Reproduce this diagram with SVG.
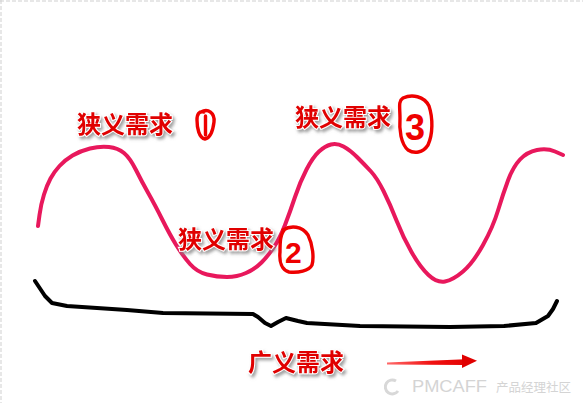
<svg xmlns="http://www.w3.org/2000/svg" width="583" height="403" viewBox="0 0 583 403">
  <defs>
    <filter id="shadow" x="-10%" y="-20%" width="130%" height="160%">
      <feDropShadow dx="2" dy="2.5" stdDeviation="1.5" flood-color="#888" flood-opacity="0.8"/>
    </filter>
    <linearGradient id="arrowGrad" x1="387" y1="0" x2="477" y2="0" gradientUnits="userSpaceOnUse">
      <stop offset="0" stop-color="#ff6a6a"/>
      <stop offset="0.5" stop-color="#f01010"/>
      <stop offset="1" stop-color="#e00000"/>
    </linearGradient>
  </defs>
  <style>
    .label { font-family: "Noto Sans CJK SC", "Noto Sans", sans-serif; font-size: 24px; font-weight: 700; fill: #e00000; stroke: #ffffff; stroke-width: 2px; paint-order: stroke; filter: url(#shadow); }
    .wave { fill: none; stroke: #e8185c; stroke-width: 4; stroke-linecap: round; stroke-linejoin: round; }
    .brace { fill: none; stroke: #000000; stroke-width: 4; stroke-linecap: round; stroke-linejoin: round; }
    .loop { fill: none; stroke: #ee0000; stroke-width: 3.4; stroke-linecap: round; stroke-linejoin: round; }
    .digit { font-family: "Liberation Sans", "DejaVu Sans", sans-serif; font-weight: 700; fill: #ee0000; }
    .wm { font-family: "Liberation Sans", "Noto Sans CJK SC", sans-serif; fill: #d4d4d4; }
  </style>

  <rect x="0" y="0" width="583" height="403" fill="#ffffff"/>
  <g id="border">
    <line x1="0" y1="1" x2="583" y2="1" stroke="#cfcfcf" stroke-width="1" stroke-dasharray="4 2"/>
    <line x1="1" y1="0" x2="1" y2="403" stroke="#cfcfcf" stroke-width="1" stroke-dasharray="4 2"/>
  </g>

  <g id="connectors">
    <path id="wave" class="wave" d="M38,226 L39.5,215 Q41,204 44,194.5 Q47,185 50.5,178.5 Q54,172 59.5,166 Q65,160 72.5,155.5 Q80,151 90,148.5 Q100,146 109,147 Q118,148 124,153 Q130,158 136,170 Q142,182 148.5,193.5 Q155,205 162.5,220 Q170,235 176.5,245.5 Q183,256 190,264 Q197,272 207,274.5 Q217,277 227,277 Q237,277 246,273 Q255,269 261.5,262.5 Q268,256 274,247 Q280,238 285,225 Q290,212 295,197 Q300,182 306.5,169.5 Q313,157 319,151.5 Q325,146 331,144.5 Q337,143 343.5,146.5 Q350,150 357.5,157.5 Q365,165 371,171.5 Q377,178 383.5,191 Q390,204 396.5,220.5 Q403,237 411.5,252 Q420,267 428.5,275 Q437,283 445,281.5 Q453,280 463,271.5 Q473,263 483,245 Q493,227 498,210.5 Q503,194 508,180.5 Q513,167 520,159.5 Q527,152 537,150 Q547,148 555,151.5 L563,155"/>
    <path id="brace" class="brace" d="M35,281 L45,296 L52,303 L67,306 L127,310 L163,313 L253,314 L258,317 L265,323 L271,326 L278,322 L286,318 L298,321 L307,323 L360,326 L450,327 L504,326 L536,323 L548,316 L553,309 L557,301"/>
    <g id="arrow">
      <polygon points="387,362.6 465,359.2 465,365 387,364.6" fill="url(#arrowGrad)"/>
      <polygon points="462,354.5 477,360.8 462,368" fill="#e00000"/>
    </g>
  </g>

  <g id="label-narrow-1">
    <text class="label" x="77" y="133">狭义需求</text>
  </g>
  <g id="mark-1">
    <path class="loop" d="M201,112 C208,108 215,113 214,122 C213,130 210,138 205,139 C199,138 197,128 197,120 C197,114 199,111 204,112"/>
    <line class="loop" x1="205.5" y1="116" x2="205.5" y2="135"/>
  </g>

  <g id="label-narrow-3">
    <text class="label" x="295" y="126">狭义需求</text>
  </g>
  <g id="mark-3">
    <path class="loop" d="M403,98 C412,94 424,96 429,106 C433,118 433,134 428,145 C423,153 414,154 408,150 C401,144 399,130 400,118 C400,108 398,101 403,98"/>
    <text class="digit" x="405" y="140" font-size="36">3</text>
  </g>

  <g id="label-narrow-2">
    <text class="label" x="178" y="248">狭义需求</text>
  </g>
  <g id="mark-2">
    <path class="loop" d="M283,230 C291,225 302,226 308,235 C313,245 314,258 312,265 C309,271 298,273 289,272 C282,270 279,262 280,252 C280,243 280,234 285,229"/>
    <text class="digit" x="285" y="263" font-size="30">2</text>
  </g>

  <g id="label-broad">
    <text class="label" x="248" y="371">广义需求</text>
  </g>

  <g id="watermark">
    <path d="M396,381 A7,7 0 1 0 398,391" fill="none" stroke="#d8d8d8" stroke-width="3"/>
    <text class="wm" x="412" y="392" font-size="16" textLength="75" lengthAdjust="spacingAndGlyphs">PMCAFF</text>
    <text class="wm" x="496" y="392" font-size="12.5" textLength="75" lengthAdjust="spacingAndGlyphs" style="font-family: 'Noto Sans CJK SC', sans-serif;">产品经理社区</text>
  </g>
</svg>
